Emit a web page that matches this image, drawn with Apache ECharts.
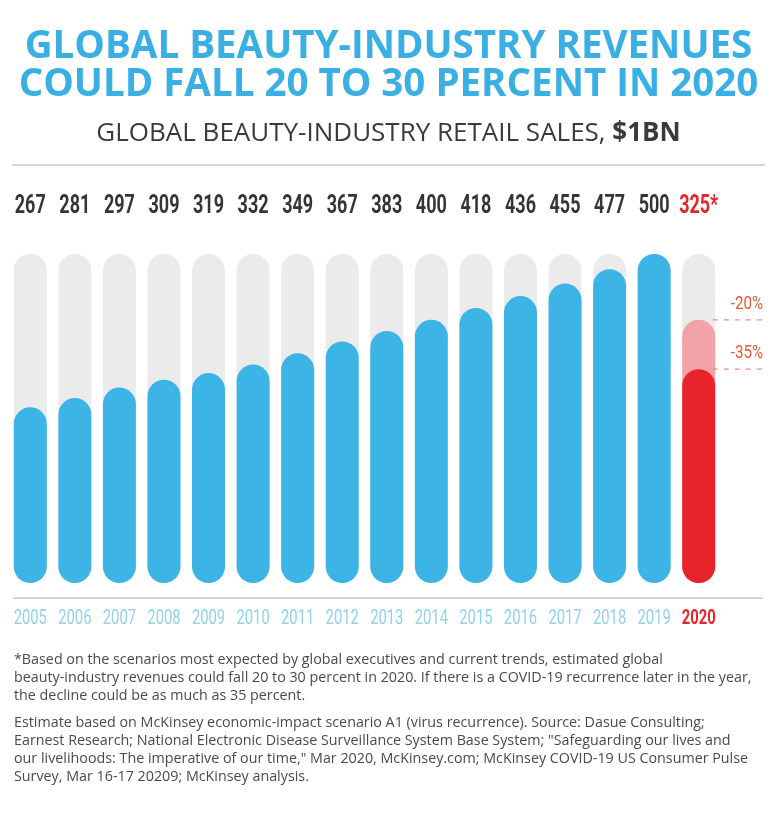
<!DOCTYPE html>
<html>
<head>
<meta charset="utf-8">
<script src="https://cdn.jsdelivr.net/npm/echarts@6/dist/echarts.min.js"></script>
<style>
  html, body { margin: 0; padding: 0; background: #ffffff; }
  #chart { width: 777px; height: 827px; }
</style>
</head>
<body>
<div id="chart"></div>
<script>
// Global beauty-industry retail sales, $ billions
const years = ['2005', '2006', '2007', '2008', '2009', '2010', '2011', '2012',
               '2013', '2014', '2015', '2016', '2017', '2018', '2019', '2020'];
const sales = [267, 281, 297, 309, 319, 332, 349, 367, 383, 400, 418, 436, 455, 477, 500, null];
const estimate2020 = 325;          // 2020 estimate, virus-recurrence scenario
const scenarioLabels = ['-20%', '-35%'];
const scenarioValues = [400, 325]; // 2020 level under each decline vs 2019

const BLUE = '#3cb4e5';
const RED = '#e8242b';
const PINK = '#f2a3a7';
const TRACK = '#ebebeb';

const topLabels = years.map((y, i) => (i === years.length - 1 ? estimate2020 + '*' : String(sales[i])));

const chart = echarts.init(document.getElementById('chart'));

const option = {
  backgroundColor: '#ffffff',
  animation: false,
  title: [
    {
      text: 'GLOBAL BEAUTY-INDUSTRY REVENUES\nCOULD FALL 20 TO 30 PERCENT IN 2020',
      left: 'center', top: 23,
      textStyle: {
        color: '#3aafe3', fontSize: 38.5, fontWeight: 700, lineHeight: 38,
        fontFamily: '"Open Sans", sans-serif'
      }
    },
    {
      text: '{a|GLOBAL BEAUTY-INDUSTRY RETAIL SALES, }{b|$1BN}',
      left: 'center', top: 116,
      textStyle: {
        rich: {
          a: { color: '#3a3a3a', fontSize: 26, fontFamily: '"Open Sans", sans-serif', fontWeight: 400 },
          b: { color: '#3a3a3a', fontSize: 26, fontFamily: '"Open Sans", sans-serif', fontWeight: 700 }
        }
      }
    }
  ],
  grid: { left: 8, right: 56, top: 254, bottom: 244, containLabel: false },
  xAxis: {
    type: 'category', data: years,
    axisLine: { show: false }, axisTick: { show: false },
    axisLabel: { show: false }
  },
  yAxis: {
    type: 'value', min: 0, max: 500, show: false,
    splitLine: { show: false }
  },
  series: [
    {
      name: 'Sales', type: 'bar', barWidth: 33, barGap: '-100%',
      data: sales,
      showBackground: true,
      backgroundStyle: { color: TRACK, borderRadius: 16.5 },
      itemStyle: { color: BLUE, borderRadius: 16.5 },
      z: 3
    },
    {
      name: 'Decline -20%', type: 'bar', barWidth: 33, barGap: '-100%',
      data: years.map((y, i) => (i === years.length - 1 ? scenarioValues[0] : null)),
      itemStyle: { color: PINK, borderRadius: 16.5 },
      z: 4
    },
    {
      name: 'Decline -35%', type: 'bar', barWidth: 33, barGap: '-100%',
      data: years.map((y, i) => (i === years.length - 1 ? estimate2020 : null)),
      itemStyle: { color: RED, borderRadius: 16.5 },
      z: 5
    }
  ]
};

chart.setOption(option);

// Condensed labels, guide lines and footnotes, placed through the chart's scales
function drawExtras() {
  const lastIdx = years.length - 1;
  const graphics = [];
  const condensed = 'Roboto, sans-serif';

  years.forEach((y, i) => {
    const x = chart.convertToPixel({ xAxisIndex: 0 }, y);
    const isLast = i === lastIdx;
    // value row above the bars
    graphics.push({
      type: 'text', x: x, y: 207, scaleX: 0.72,
      style: {
        text: topLabels[i], fill: isLast ? RED : '#353535',
        fontSize: 25, fontWeight: 'bold', fontFamily: condensed,
        align: 'center', verticalAlign: 'middle'
      }
    });
    // year row below the bars
    graphics.push({
      type: 'text', x: x, y: 619, scaleX: 0.74,
      style: {
        text: y, fill: isLast ? RED : '#93d1ec',
        fontSize: 20, fontWeight: isLast ? 'bold' : 'normal', fontFamily: condensed,
        align: 'center', verticalAlign: 'middle'
      }
    });
  });

  scenarioValues.forEach((v, i) => {
    const p = chart.convertToPixel({ xAxisIndex: 0, yAxisIndex: 0 }, [years[lastIdx], v]);
    graphics.push({
      type: 'line', z: 10,
      shape: { x1: p[0] + 14, y1: p[1], x2: 766, y2: p[1] },
      style: { stroke: '#ee8a8d', lineWidth: 1.2, lineDash: [5, 6] }
    });
    graphics.push({
      type: 'text', z: 10, x: 747, y: p[1] - 16, scaleX: 0.8,
      style: {
        text: scenarioLabels[i], fill: '#e8583a', fontSize: 19,
        fontFamily: condensed, align: 'center', verticalAlign: 'middle'
      }
    });
  });

  // rules above and below the bars
  graphics.push({ type: 'line', shape: { x1: 12, y1: 165, x2: 765, y2: 165 },
                  style: { stroke: '#d6d6d6', lineWidth: 2 } });
  graphics.push({ type: 'line', shape: { x1: 13, y1: 598, x2: 763, y2: 598 },
                  style: { stroke: '#d2d2d2', lineWidth: 2 } });

  const note1 = '*Based on the scenarios most expected by global executives and current trends, estimated global\n' +
                'beauty-industry revenues could fall 20 to 30 percent in 2020. If there is a COVID-19 recurrence later in the year,\n' +
                'the decline could be as much as 35 percent.';
  const note2 = 'Estimate based on McKinsey economic-impact scenario A1 (virus recurrence). Source: Dasue Consulting;\n' +
                'Earnest Research; National Electronic Disease Surveillance System Base System; "Safeguarding our lives and\n' +
                'our livelihoods: The imperative of our time," Mar 2020, McKinsey.com; McKinsey COVID-19 US Consumer Pulse\n' +
                'Survey, Mar 16-17 20209; McKinsey analysis.';
  const noteStyle = { fill: '#4a4a4a', fontSize: 14.3, lineHeight: 18, fontFamily: '"Open Sans", sans-serif' };
  graphics.push({ type: 'text', x: 14, y: 651, style: Object.assign({ text: note1 }, noteStyle) });
  graphics.push({ type: 'text', x: 14, y: 714, style: Object.assign({ text: note2 }, noteStyle) });
  chart.setOption({ graphic: graphics });
}
drawExtras();
</script>
</body>
</html>
